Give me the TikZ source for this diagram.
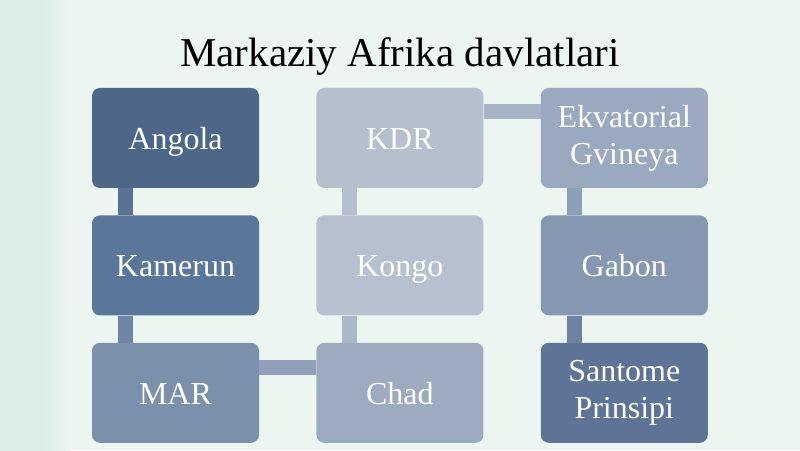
\documentclass[tikz,border=0pt]{standalone}
\usepackage{fontspec}
\setmainfont{Liberation Serif}
\usetikzlibrary{positioning}
\usepackage{xcolor}

\definecolor{bgmint}{HTML}{EDF5F0}
\definecolor{bgleft}{HTML}{DAEEE5}
\definecolor{cAngola}{HTML}{4E6687}
\definecolor{cKamerun}{HTML}{5A769A}
\definecolor{cMAR}{HTML}{7A90AD}
\definecolor{cChad}{HTML}{9DAAC0}
\definecolor{cKongo}{HTML}{B6C0CF}
\definecolor{cKDR}{HTML}{B5BFCE}
\definecolor{cEkv}{HTML}{9AA9BF}
\definecolor{cGabon}{HTML}{8597B1}
\definecolor{cSantome}{HTML}{5E7496}

\begin{document}
\begin{tikzpicture}[x=1pt,y=1pt,node distance=27pt and 57pt]
  \tikzstyle{country} = [rectangle,rounded corners=8pt,minimum width=167pt,minimum height=100pt,
                         text=white,font=\fontsize{32}{37}\selectfont,align=center,inner sep=2pt]
  \tikzstyle{oneline} = [text height=28pt,text depth=5pt]
  \tikzstyle{bar} = [line width=15pt,-]

  % background
  \fill[bgmint] (0,0) rectangle (800,450);
  \shade[left color=bgleft,right color=bgleft] (0,0) rectangle (40,450);
  \shade[left color=bgleft,right color=bgmint] (40,0) rectangle (70,450);
  \useasboundingbox (0,0) rectangle (800,450);

  \node (title) at (400,394) {\fontsize{41}{41}\selectfont Markaziy Afrika davlatlari};

  \node[country,oneline,fill=cAngola]  (Angola)  at (175.5,312) {Angola};
  \node[country,oneline,fill=cKamerun] (Kamerun) [below=of Angola]  {Kamerun};
  \node[country,oneline,fill=cMAR]     (MAR)     [below=of Kamerun] {MAR};
  \node[country,oneline,fill=cChad]    (Chad)    [right=of MAR]     {Chad};
  \node[country,oneline,fill=cKongo]   (Kongo)   [above=of Chad]    {Kongo};
  \node[country,oneline,fill=cKDR]     (KDR)     [above=of Kongo]   {KDR};
  \node[country,fill=cEkv]     (Ekv)     [right=of KDR]     {Ekvatorial\\Gvineya};
  \node[country,oneline,fill=cGabon]   (Gabon)   [below=of Ekv]     {Gabon};
  \node[country,fill=cSantome] (Santome) [below=of Gabon]   {Santome\\Prinsipi};

  \draw[bar,color=cKamerun!80!cAngola] ([xshift=33.5pt]Angola.south west) -- ([xshift=33.5pt]Kamerun.north west);
  \draw[bar,color=cMAR!60!cKamerun]    ([xshift=33.5pt]Kamerun.south west) -- ([xshift=33.5pt]MAR.north west);
  \draw[bar,color=cChad!60!cMAR]       ([yshift=-24.5pt]MAR.north east) -- ([yshift=-24.5pt]Chad.north west);
  \draw[bar,color=cKongo!60!cChad]     ([xshift=33.5pt]Chad.north west) -- ([xshift=33.5pt]Kongo.south west);
  \draw[bar,color=cKDR]                ([xshift=33.5pt]Kongo.north west) -- ([xshift=33.5pt]KDR.south west);
  \draw[bar,color=cEkv!50!cKDR]        ([yshift=-23.5pt]KDR.north east) -- ([yshift=-23.5pt]Ekv.north west);
  \draw[bar,color=cGabon!60!cEkv]      ([xshift=33.5pt]Ekv.south west) -- ([xshift=33.5pt]Gabon.north west);
  \draw[bar,color=cSantome!60!cGabon]  ([xshift=33.5pt]Gabon.south west) -- ([xshift=33.5pt]Santome.north west);
\end{tikzpicture}
\end{document}
